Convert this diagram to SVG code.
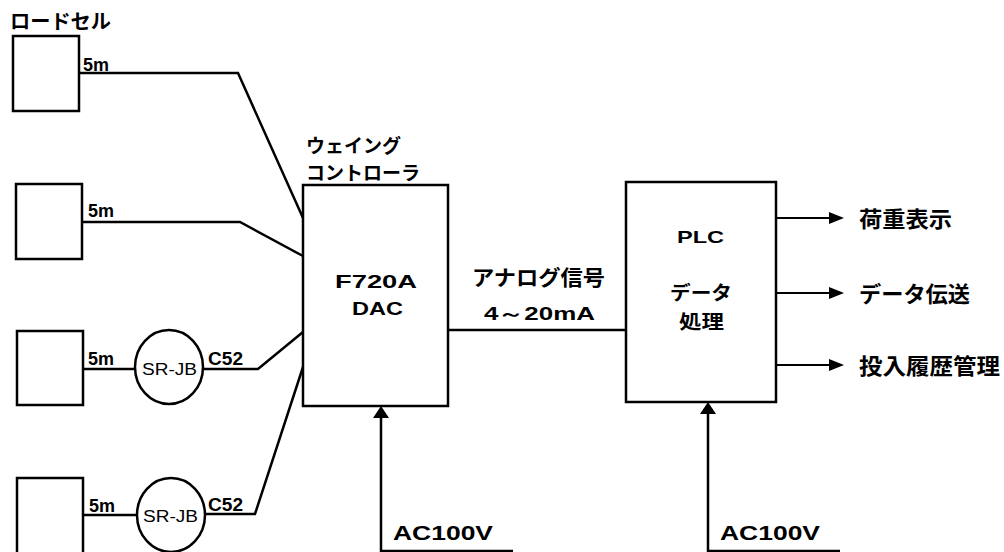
<svg xmlns="http://www.w3.org/2000/svg" width="1004" height="552" viewBox="0 0 1004 552">
<style>
.box{fill:#fff;stroke:#000;stroke-width:2.5}
.ln{fill:none;stroke:#000;stroke-width:2.5}
.thin{fill:none;stroke:#000;stroke-width:2}
.jp{font-family:"Noto Sans CJK JP","Noto Sans",sans-serif;font-weight:bold;fill:#000}
.en{font-family:"Liberation Sans",Arial,sans-serif;font-weight:bold;fill:#000}
.rg{font-family:"Liberation Sans",Arial,sans-serif;fill:#000}
</style>
<rect width="1004" height="552" fill="#fff"/>
<g id="connectors">
<polyline class="ln" points="79,73 238,73 303,218"/>
<polyline class="ln" points="82,222 240,222 303,256"/>
<line class="ln" x1="83" y1="369" x2="135" y2="369"/>
<polyline class="ln" points="203,369 258,369 303,332"/>
<line class="ln" x1="83" y1="515" x2="137" y2="515"/>
<polyline class="ln" points="205,514 255,514 303,367"/>
<line class="ln" x1="448" y1="330" x2="626" y2="330"/>
<polyline class="ln" points="513,551 381,551 381,416"/>
<path d="M381,406 L373,418 L389,418 Z" fill="#000"/>
<polyline class="ln" points="840,551 708,551 708,412"/>
<path d="M708,402 L700,414 L716,414 Z" fill="#000"/>
<line class="thin" x1="776" y1="218" x2="830" y2="218"/>
<path d="M844,218 L829,212 L829,224 Z" fill="#000"/>
<line class="thin" x1="776" y1="293" x2="830" y2="293"/>
<path d="M844,293 L829,287 L829,299 Z" fill="#000"/>
<line class="thin" x1="776" y1="365" x2="830" y2="365"/>
<path d="M844,365 L829,359 L829,371 Z" fill="#000"/>
</g>
<g id="loadcell-title"><text class="jp" x="10" y="29" font-size="20" textLength="101" lengthAdjust="spacingAndGlyphs">ロードセル</text></g>
<g id="loadcell1"><rect class="box" x="13" y="36" width="66" height="75"/><text class="en" x="83" y="71" font-size="18" textLength="26" lengthAdjust="spacingAndGlyphs">5m</text></g>
<g id="loadcell2"><rect class="box" x="16" y="184" width="66" height="75"/><text class="en" x="88" y="217" font-size="18" textLength="26" lengthAdjust="spacingAndGlyphs">5m</text></g>
<g id="loadcell3"><rect class="box" x="17" y="331" width="66" height="74"/><text class="en" x="88" y="365" font-size="18" textLength="26" lengthAdjust="spacingAndGlyphs">5m</text></g>
<g id="loadcell4"><rect class="box" x="17" y="478" width="66" height="80"/><text class="en" x="89" y="512" font-size="18" textLength="26" lengthAdjust="spacingAndGlyphs">5m</text></g>
<g id="srjb1"><ellipse class="box" cx="169" cy="367" rx="34" ry="37"/><text class="rg" x="142" y="375" font-size="16" textLength="55" lengthAdjust="spacingAndGlyphs">SR-JB</text><text class="en" x="208" y="365" font-size="18" textLength="35" lengthAdjust="spacingAndGlyphs">C52</text></g>
<g id="srjb2"><ellipse class="box" cx="171" cy="515" rx="34" ry="37"/><text class="rg" x="143" y="522" font-size="16" textLength="55" lengthAdjust="spacingAndGlyphs">SR-JB</text><text class="en" x="208" y="511" font-size="18" textLength="35" lengthAdjust="spacingAndGlyphs">C52</text></g>
<g id="controller">
<text class="jp" x="306" y="153" font-size="19">ウェイング</text>
<text class="jp" x="306" y="180" font-size="19">コントローラ</text>
<rect class="box" x="303" y="185" width="145" height="221"/>
<text class="en" x="335" y="288" font-size="19" textLength="82" lengthAdjust="spacingAndGlyphs">F720A</text>
<text class="en" x="352" y="315" font-size="19" textLength="51" lengthAdjust="spacingAndGlyphs">DAC</text>
</g>
<g id="signal-label">
<text class="jp" x="472" y="285" font-size="21" textLength="133" lengthAdjust="spacingAndGlyphs">アナログ信号</text>
<text class="en" x="484" y="320" font-size="18" textLength="111" lengthAdjust="spacingAndGlyphs">4～20mA</text>
</g>
<g id="plc">
<rect class="box" x="626" y="182" width="150" height="220"/>
<text class="en" x="677" y="243" font-size="17" textLength="47" lengthAdjust="spacingAndGlyphs">PLC</text>
<text class="jp" x="670" y="300" font-size="19" textLength="62" lengthAdjust="spacingAndGlyphs">データ</text>
<text class="jp" x="679" y="329" font-size="19" textLength="45" lengthAdjust="spacingAndGlyphs">処理</text>
</g>
<g id="out1"><text class="jp" x="859" y="227" font-size="22" textLength="93" lengthAdjust="spacingAndGlyphs">荷重表示</text></g>
<g id="out2"><text class="jp" x="859" y="302" font-size="22" textLength="111" lengthAdjust="spacingAndGlyphs">データ伝送</text></g>
<g id="out3"><text class="jp" x="859" y="374" font-size="22" textLength="141" lengthAdjust="spacingAndGlyphs">投入履歴管理</text></g>
<g id="ac1"><text class="en" x="393" y="540" font-size="21" textLength="100" lengthAdjust="spacingAndGlyphs">AC100V</text></g>
<g id="ac2"><text class="en" x="720" y="540" font-size="21" textLength="100" lengthAdjust="spacingAndGlyphs">AC100V</text></g>
</svg>
